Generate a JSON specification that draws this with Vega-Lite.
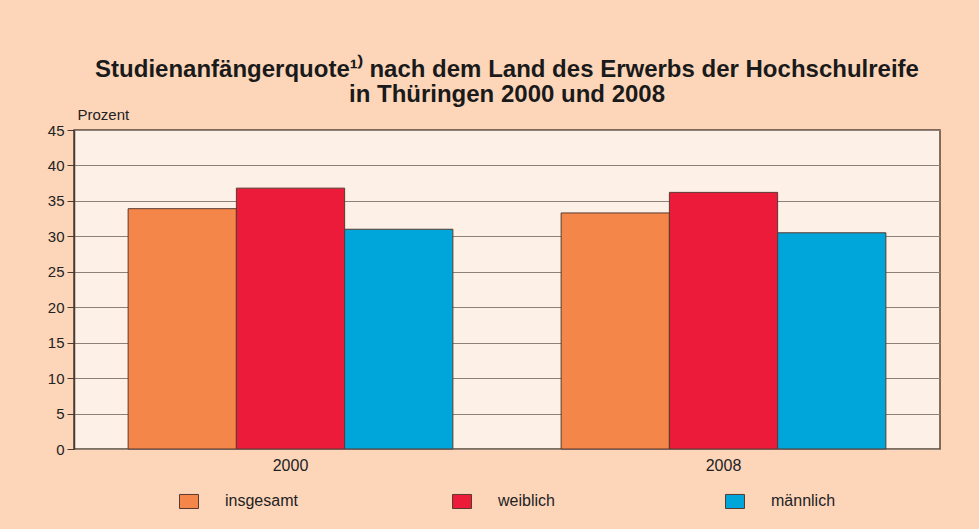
{
  "$schema": "https://vega.github.io/schema/vega-lite/v6.json",
  "autosize": "none",
  "width": 866,
  "height": 319,
  "padding": {"left": 74, "top": 130, "right": 39, "bottom": 80},
  "background": "#fdd6ba",
  "title": {
    "text": ["Studienanfängerquote¹⁾ nach dem Land des Erwerbs der Hochschulreife", "in Thüringen 2000 und 2008"],
    "anchor": "middle",
    "font": "Liberation Sans",
    "fontSize": 24,
    "fontWeight": "bold",
    "lineHeight": 25,
    "color": "#1a1a1a",
    "offset": 0
  },
  "data": {
    "values": [
      {"jahr": "2000", "gruppe": "insgesamt", "wert": 33.9},
      {"jahr": "2000", "gruppe": "weiblich", "wert": 36.8},
      {"jahr": "2000", "gruppe": "männlich", "wert": 31.0},
      {"jahr": "2008", "gruppe": "insgesamt", "wert": 33.3},
      {"jahr": "2008", "gruppe": "weiblich", "wert": 36.2},
      {"jahr": "2008", "gruppe": "männlich", "wert": 30.5}
    ]
  },
  "mark": {"type": "bar", "stroke": "#5a3a30", "strokeWidth": 1},
  "encoding": {
    "x": {
      "field": "jahr",
      "type": "nominal",
      "scale": {"paddingInner": 0.25, "paddingOuter": 0.125},
      "axis": {
        "title": null,
        "labelAngle": 0,
        "ticks": false,
        "domain": false,
        "labelFont": "Liberation Sans",
        "labelFontSize": 16,
        "labelColor": "#222222",
        "labelPadding": 8
      }
    },
    "xOffset": {
      "field": "gruppe",
      "type": "nominal",
      "sort": ["insgesamt", "weiblich", "männlich"],
      "scale": {"paddingInner": 0, "paddingOuter": 0}
    },
    "y": {
      "field": "wert",
      "type": "quantitative",
      "scale": {"domain": [0, 45]},
      "axis": {
        "values": [0, 5, 10, 15, 20, 25, 30, 35, 40, 45],
        "title": "Prozent",
        "titleAngle": 0,
        "titleAlign": "left",
        "titleBaseline": "alphabetic",
        "titleX": 3,
        "titleY": -11,
        "titleFont": "Liberation Sans",
        "titleFontSize": 15,
        "titleFontWeight": "normal",
        "titleColor": "#222222",
        "labelFont": "Liberation Sans",
        "labelFontSize": 15,
        "labelColor": "#222222",
        "labelPadding": 3,
        "tickSize": 7,
        "tickColor": "#4a3a30",
        "domainColor": "#4a3a30",
        "domainWidth": 1.5,
        "grid": true,
        "gridColor": "#8c8078",
        "gridWidth": 1
      }
    },
    "color": {
      "field": "gruppe",
      "type": "nominal",
      "sort": ["insgesamt", "weiblich", "männlich"],
      "scale": {
        "domain": ["insgesamt", "weiblich", "männlich"],
        "range": ["#f4864a", "#ed1b3a", "#00a5d9"]
      },
      "legend": {
        "title": null,
        "orient": "none",
        "direction": "horizontal",
        "legendX": 105,
        "legendY": 361,
        "padding": 0,
        "columns": 3,
        "gridAlign": "all",
        "columnPadding": 152,
        "symbolType": "M-1,-0.74L1,-0.74L1,0.74L-1,0.74Z",
        "symbolSize": 361,
        "symbolStrokeColor": "#5a3a30",
        "symbolStrokeWidth": 1,
        "symbolOpacity": 1,
        "labelOffset": 26,
        "labelFont": "Liberation Sans",
        "labelFontSize": 16,
        "labelColor": "#222222"
      }
    }
  },
  "config": {
    "view": {"fill": "#fdf0e6", "stroke": "#5a4535", "strokeWidth": 1.5}
  }
}
